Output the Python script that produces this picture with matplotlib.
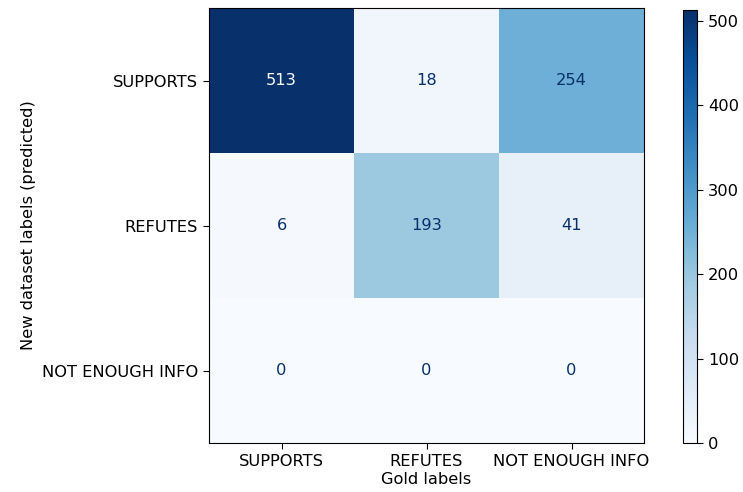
import numpy as np
import matplotlib
matplotlib.use("Agg")
import matplotlib.pyplot as plt

labels = ["SUPPORTS", "REFUTES", "NOT ENOUGH INFO"]
row_supports = [513, 18, 254]
row_refutes = [6, 193, 41]
row_nei = [0, 0, 0]

cm = np.array([row_supports, row_refutes, row_nei])

plt.rcParams["font.size"] = 11.7
plt.rcParams["xtick.major.size"] = 4.5
plt.rcParams["ytick.major.size"] = 4.5

fig = plt.figure(figsize=(7.43, 4.92), dpi=100)
ax = fig.add_axes([209 / 743, 1 - 443 / 492, 435 / 743, 435 / 492])
cax = fig.add_axes([683 / 743, 1 - 443 / 492, 14 / 743, 433 / 492])

cmap = plt.get_cmap("Blues")
im = ax.imshow(cm, cmap=cmap, interpolation="nearest", aspect="auto")
fig.colorbar(im, cax=cax)

thresh = (cm.max() + cm.min()) / 2.0
for i in range(cm.shape[0]):
    for j in range(cm.shape[1]):
        color = cmap(0) if cm[i, j] > thresh else cmap(1.0)
        ax.text(j, i, str(cm[i, j]), ha="center", va="center", color=color)

ax.set_xticks(range(3))
ax.set_yticks(range(3))
ax.set_xticklabels(labels)
ax.set_yticklabels(labels)
ax.set_xlabel("Gold labels", labelpad=2)
ax.set_ylabel("New dataset labels (predicted)")

fig.savefig("out.png", dpi=100)
